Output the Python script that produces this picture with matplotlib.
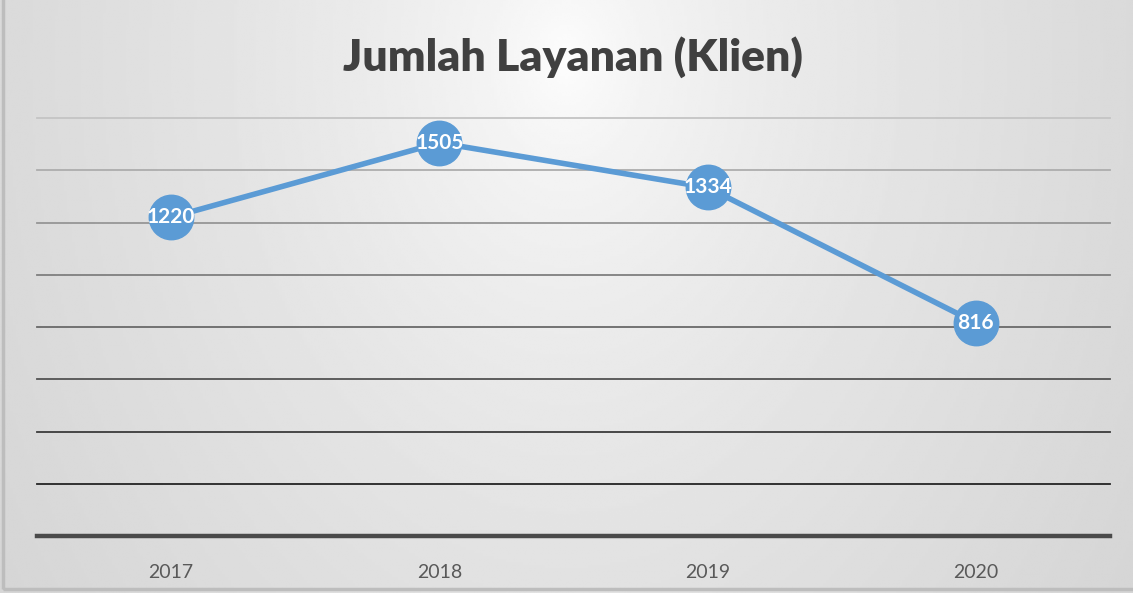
import numpy as np
import matplotlib.pyplot as plt
from matplotlib.patches import Rectangle

# ---- data ----
years = ['2017', '2018', '2019', '2020']
klien = [1220, 1505, 1334, 816]
grid_vals = [200, 400, 600, 800, 1000, 1200, 1400, 1600]

W, H, DPI = 1133, 593, 100
fig = plt.figure(figsize=(W / DPI, H / DPI), dpi=DPI)

# background radial gradient (white near top centre, grey at corners)
bg = fig.add_axes([0, 0, 1, 1], zorder=-5)
xx, yy = np.meshgrid(np.linspace(0, 1, 400), np.linspace(0, 1, 200))
d = np.sqrt(((xx - 0.5) / 0.5) ** 2 + ((yy - 0.1) / 1.3) ** 2)
shade = 1.0 - 0.145 * d ** 0.6
bg.imshow(shade, cmap='gray', vmin=0, vmax=1, aspect='auto',
          extent=[0, 1, 1, 0], interpolation='bilinear')
bg.set_xlim(0, 1)
bg.set_ylim(1, 0)
bg.axis('off')
bg.add_patch(Rectangle((0.003, 0.007), 1.2, 1.2, fill=False,
                       edgecolor='#bdbdbd', lw=2.5, transform=bg.transAxes))

# plot area
left, right = 37 / W, 1110 / W
bottom, top = 1 - 536 / H, 1 - 118 / H
ax = fig.add_axes([left, bottom, right - left, top - bottom])
ax.set_facecolor('none')
x = np.arange(len(years))
ax.set_xlim(-0.5, len(years) - 0.5)
ax.set_ylim(0, 1600)

# gridlines get darker towards the bottom
for g in grid_vals:
    c = 0.05 + 0.72 * (g / 1600)
    ax.axhline(g, color=(c, c, c), lw=1.3, zorder=1, clip_on=False)
ax.axhline(0, color='#4a4a4a', lw=3.2, zorder=2, clip_on=False)

ax.plot(x, klien, color='#5b9bd5', lw=4, marker='o', markersize=32,
        markerfacecolor='#5b9bd5', markeredgecolor='#5b9bd5', zorder=3,
        solid_capstyle='round')
for xi, v in zip(x, klien):
    ax.text(xi, v, str(v), ha='center', va='center', color='white',
            fontsize=15, fontweight='bold', family='Lato', zorder=4)

ax.set_xticks(x)
ax.set_xticklabels(years, fontsize=14, color='#595959', family='Lato')
ax.tick_params(axis='x', length=0, pad=20)
ax.set_yticks([])
for s in ax.spines.values():
    s.set_visible(False)

fig.text(573 / W, 1 - 57 / H, 'Jumlah Layanan (Klien)', ha='center',
         va='center', fontsize=32, fontweight='heavy', color='#404040',
         family='Lato')

fig.savefig('out.png', dpi=DPI)
